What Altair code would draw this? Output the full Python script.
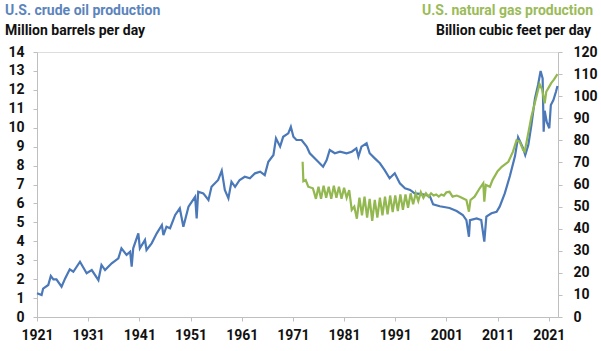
import altair as alt
import pandas as pd

# U.S. crude oil production, million barrels per day
oil_years = [1921.0, 1921.9, 1922.2, 1923.2, 1923.7, 1924.2, 1924.8, 1925.8, 1926.5, 1927.4,
             1928.1, 1929.4, 1930.7, 1931.7, 1933.0, 1933.6, 1934.3, 1935.6, 1936.9, 1937.5,
             1938.5, 1939.2, 1939.5, 1939.8, 1940.8, 1941.1, 1942.1, 1942.4, 1943.4, 1944.4,
             1945.4, 1945.7, 1946.3, 1947.0, 1948.0, 1948.9, 1949.6, 1950.6, 1951.9, 1952.2,
             1952.5, 1953.5, 1954.5, 1955.1, 1956.4, 1957.1, 1957.7, 1958.4, 1959.0, 1959.7,
             1960.6, 1961.6, 1962.6, 1963.6, 1964.6, 1965.5, 1966.2, 1967.2, 1967.7, 1968.5,
             1969.1, 1970.1, 1970.6, 1971.1, 1971.7, 1972.7, 1973.7, 1974.3, 1975.6, 1976.9,
             1977.6, 1978.2, 1979.2, 1980.2, 1981.5, 1982.5, 1983.4, 1983.8, 1984.4, 1985.4,
             1986.0, 1987.0, 1988.0, 1988.9, 1989.9, 1990.9, 1991.9, 1992.9, 1993.9, 1994.8,
             1995.8, 1997.1, 1997.8, 1998.4, 1999.7, 2001.6, 2003.0, 2004.2, 2004.9, 2005.4,
             2005.6, 2006.9, 2007.8, 2008.4, 2008.8, 2009.8, 2010.8, 2011.4, 2012.4, 2013.4,
             2014.4, 2015.0, 2016.0, 2016.4, 2017.0, 2017.6, 2018.3, 2018.9, 2019.4, 2019.8,
             2020.0, 2020.2, 2020.6, 2021.1, 2021.4, 2021.9, 2022.4, 2022.7]
oil_values = [1.25, 1.16, 1.50, 1.69, 2.17, 1.99, 1.99, 1.60, 2.04, 2.52,
              2.39, 2.92, 2.31, 2.48, 1.95, 2.75, 2.48, 2.84, 3.10, 3.63,
              3.28, 3.45, 2.66, 3.63, 4.42, 3.63, 4.07, 3.54, 3.89, 4.42,
              4.86, 4.33, 4.77, 4.69, 5.39, 5.74, 4.77, 5.83, 6.35, 5.21,
              6.62, 6.53, 6.18, 6.88, 7.24, 7.73, 6.71, 6.27, 7.15, 6.88,
              7.24, 7.41, 7.33, 7.59, 7.68, 7.50, 8.20, 8.56, 9.44, 9.00,
              9.52, 9.70, 10.05, 9.52, 9.35, 9.35, 9.00, 8.65, 8.29, 7.94,
              8.29, 8.82, 8.65, 8.73, 8.65, 8.73, 8.91, 8.47, 9.00, 9.18,
              8.65, 8.38, 8.12, 7.77, 7.33, 7.59, 7.06, 6.80, 6.71, 6.53,
              6.50, 6.44, 6.36, 5.95, 5.85, 5.76, 5.60, 5.39, 5.12, 4.24,
              5.12, 5.21, 5.12, 3.98, 5.30, 5.48, 5.56, 5.83, 6.53, 7.45,
              8.50, 9.50, 8.91, 8.56, 9.09, 10.14, 11.55, 12.26, 13.00, 12.60,
              9.79, 10.90, 10.30, 9.97, 11.20, 11.46, 11.90, 12.20]

# U.S. natural gas production, billion cubic feet per day
gas_years = [1972.9, 1973.05, 1973.5, 1974.0, 1974.9, 1975.2, 1975.5, 1976.0, 1976.5, 1977.0,
             1977.5, 1978.0, 1978.5, 1979.0, 1979.5, 1980.0, 1980.5, 1981.0, 1981.5, 1982.0,
             1982.5, 1983.0, 1983.5, 1984.0, 1984.5, 1985.0, 1985.5, 1986.0, 1986.5, 1987.0,
             1987.5, 1988.0, 1988.5, 1989.0, 1989.5, 1990.0, 1990.5, 1991.0, 1991.5, 1992.0,
             1992.5, 1993.0, 1993.5, 1994.0, 1994.5, 1995.0, 1995.5, 1996.0, 1996.5, 1997.0,
             1997.5, 1998.0, 1998.5, 1999.0, 1999.5, 2000.0, 2000.5, 2001.0, 2001.6, 2002.2,
             2003.0, 2003.6, 2004.9, 2005.4, 2005.7, 2006.5, 2007.5, 2008.2, 2008.4, 2008.7,
             2009.5, 2010.0, 2011.0, 2011.8, 2013.1, 2014.0, 2014.7, 2015.3, 2016.0, 2016.3,
             2017.3, 2017.6, 2018.6, 2019.2, 2019.7, 2020.2, 2020.5, 2021.0, 2021.5, 2022.0,
             2022.7]
gas_values = [70.3, 61.5, 62.0, 59.0, 58.3, 56.0, 53.5, 59.0, 53.5, 59.5,
              54.0, 59.0, 53.5, 59.5, 54.0, 59.0, 53.5, 58.5, 54.0, 57.5,
              48.5, 50.0, 44.5, 54.0, 46.0, 54.5, 45.0, 53.5, 43.5, 53.0,
              45.0, 54.0, 46.0, 54.5, 46.5, 55.0, 47.5, 55.0, 48.0, 55.5,
              48.5, 55.5, 49.5, 56.0, 51.0, 56.0, 52.5, 56.5, 54.0, 56.0,
              54.5, 56.0, 55.0, 55.5, 54.5, 55.5, 55.0, 56.5, 56.7, 54.5,
              55.0, 54.5, 53.0, 47.7, 53.0, 54.5, 58.3, 60.6, 52.2, 59.8,
              59.0, 62.0, 66.0, 68.0, 70.3, 74.9, 80.0, 79.4, 75.6, 74.9,
              87.0, 90.7, 100.0, 105.5, 103.0, 96.8, 102.0, 104.0, 106.0, 107.5,
              110.0]

oil_ticks = list(range(0, 15))
gas_ticks = list(range(0, 121, 10))
year_ticks = list(range(1921, 2022, 10))

FONT = "Liberation Sans Narrow, Arial Narrow, Roboto, sans-serif"
OIL_COLOR = "#4a78b8"
GAS_COLOR = "#92b84f"
AXIS_GRAY = "#bfbfbf"
TEXT = "#111111"
FS = 14

oil_df = pd.DataFrame({"year": oil_years, "value": oil_values})
gas_df = pd.DataFrame({"year": gas_years, "value": gas_values})

xscale = alt.Scale(domain=[1921, 2022.8], nice=False, zero=False)
xaxis = alt.Axis(values=year_ticks, format="d", title=None, grid=False,
                 domainColor=AXIS_GRAY, tickColor=AXIS_GRAY, tickSize=4,
                 labelFont=FONT, labelFontSize=FS, labelFontWeight="bold",
                 labelColor=TEXT, labelPadding=7, labelFlush=False)

oil = alt.Chart(oil_df).mark_line(color=OIL_COLOR, strokeWidth=2.2).encode(
    x=alt.X("year:Q", scale=xscale, axis=xaxis),
    y=alt.Y("value:Q", scale=alt.Scale(domain=[0, 14], nice=False),
            axis=alt.Axis(values=oil_ticks, title=None, grid=False, orient="left",
                          domainColor=AXIS_GRAY, tickColor=AXIS_GRAY, tickSize=4,
                          labelFont=FONT, labelFontSize=FS, labelFontWeight="bold",
                          labelColor=TEXT, labelPadding=9)),
)

gas = alt.Chart(gas_df).mark_line(color=GAS_COLOR, strokeWidth=2.2).encode(
    x=alt.X("year:Q", scale=xscale, axis=xaxis),
    y=alt.Y("value:Q", scale=alt.Scale(domain=[0, 120], nice=False),
            axis=alt.Axis(values=gas_ticks, title=None, grid=False, orient="right",
                          domainColor=AXIS_GRAY, tickColor=AXIS_GRAY, tickSize=4,
                          labelFont=FONT, labelFontSize=FS, labelFontWeight="bold",
                          labelColor=TEXT, labelPadding=11)),
)

label_df = pd.DataFrame({"a": [0]})


def header(text, x, y, color, align):
    return alt.Chart(label_df).mark_text(
        text=text, font=FONT, fontSize=FS, fontWeight="bold", color=color,
        align=align, baseline="middle").encode(x=alt.value(x), y=alt.value(y))


headers = (
    header("U.S. crude oil production", -32, -41, "#5b84bd", "left")
    + header("Million barrels per day", -32, -21, TEXT, "left")
    + header("U.S. natural gas production", 556, -41, "#9bbb59", "right")
    + header("Billion cubic feet per day", 554, -21, TEXT, "right")
)

chart = alt.layer(oil, gas).resolve_scale(y="independent")
chart = alt.layer(chart, headers).properties(
    width=521, height=265,
    autosize=alt.AutoSizeParams(type="none"),
    padding={"left": 37, "top": 52, "right": 43, "bottom": 34},
).configure_view(stroke=None).configure(background="white")

chart.save("out.html", embed_options={"renderer": "svg", "actions": False})
